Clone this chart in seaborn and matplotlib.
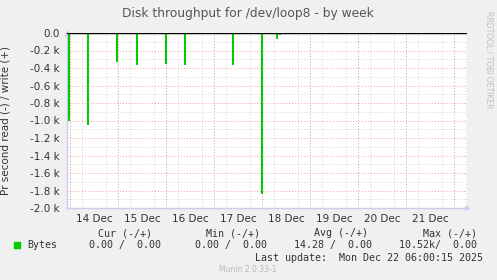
import matplotlib
matplotlib.use("Agg")
import matplotlib.pyplot as plt
import seaborn as sns
import pandas as pd
from matplotlib.ticker import FixedLocator, MultipleLocator

# ---- data (hours since Dec 14 00:00, read bytes/s shown negative) ----
hours = [-1.5, -1.0, -0.5, 8.5, 9.0, 23.0, 23.5, 33.0, 33.5, 47.5, 48.0,
         57.0, 57.5, 81.0, 81.5, 95.5, 96.0, 103.0, 103.5, 104.5, 105.0, 198.5]
read_neg = [0, -990, 0, -1040, 0, -320, 0, -350, 0, -345, 0,
            -350, 0, -350, 0, -1830, 0, -55, 0, -10, 0, 0]
write = [0] * len(hours)

day_labels = ["14 Dec", "15 Dec", "16 Dec", "17 Dec", "18 Dec", "19 Dec", "20 Dec", "21 Dec"]
ytick_vals = [0, -200, -400, -600, -800, -1000, -1200, -1400, -1600, -1800, -2000]
ytick_labels = ["0.0", "-0.2 k", "-0.4 k", "-0.6 k", "-0.8 k", "-1.0 k",
                "-1.2 k", "-1.4 k", "-1.6 k", "-1.8 k", "-2.0 k"]

title = "Disk throughput for /dev/loop8 - by week"
ylabel = "Pr second read (-) / write (+)"
legend_headers = ["Cur (-/+)", "Min (-/+)", "Avg (-/+)", "Max (-/+)"]
legend_values = ["0.00 /  0.00", "0.00 /  0.00", "14.28 /  0.00", "10.52k/  0.00"]
series_name = "Bytes"
last_update = "Last update:  Mon Dec 22 06:00:15 2025"
footer = "Munin 2.0.33-1"
side_text = "RRDTOOL / TOBI OETIKER"

df = pd.DataFrame({"hour": hours, "read": read_neg, "write": write})

sns.set_theme(style="white")
plt.rcParams["font.family"] = ["DejaVu Sans"]

W, H = 497, 280
fig = plt.figure(figsize=(W / 100, H / 100), dpi=100, facecolor="#f0f0f0")
L, R, T, B = 67, 467, 33, 208
ax = fig.add_axes([L / W, 1 - B / H, (R - L) / W, (B - T) / H])
ax.set_facecolor("white")

green = "#00cc00"
sns.lineplot(data=df, x="hour", y="read", ax=ax, color=green, linewidth=0.75,
             drawstyle="steps-post", estimator=None, zorder=3)
sns.lineplot(data=df, x="hour", y="write", ax=ax, color=green, linewidth=0.75,
             drawstyle="steps-post", estimator=None, zorder=3)
ax.axhline(0, color="black", linewidth=1.0, zorder=4)

ax.set_xlim(-1.5, 198.5)
ax.set_ylim(-2000, 0)

# grids
grid_gray = "#d4d4d4"
grid_red = "#f0a0a0"
ax.xaxis.set_minor_locator(MultipleLocator(6))
ax.yaxis.set_minor_locator(MultipleLocator(100))
ax.xaxis.set_major_locator(FixedLocator([24 * i + 12 for i in range(len(day_labels))]))
ax.set_xticklabels(day_labels)
ax.yaxis.set_major_locator(FixedLocator(ytick_vals))
ax.set_yticklabels(ytick_labels)
ax.grid(False)
ax.grid(which="minor", axis="both", color=grid_gray, linestyle=(0, (1, 2)), linewidth=0.7, zorder=1)
ax.grid(which="major", axis="y", color=grid_red, linestyle=(0, (1, 2)), linewidth=0.7, zorder=1)
for d in range(len(day_labels) + 1):
    ax.axvline(24 * d, color=grid_red, linestyle=(0, (1, 2)), linewidth=0.7, zorder=1.5)

ax.tick_params(axis="both", which="major", labelsize=7.5, labelcolor="#333333",
               length=2, color="#999999", pad=3)
ax.tick_params(axis="x", which="major", length=0, pad=4)
ax.tick_params(axis="both", which="minor", length=0)
ax.set_xlabel("")
ax.set_ylabel(ylabel, fontsize=7.5, color="#333333", labelpad=4)
ax.yaxis.set_label_coords(-(67 - 11) / 400, 0.5)

for s in ["top", "right"]:
    ax.spines[s].set_visible(False)
for s in ["left", "bottom"]:
    ax.spines[s].set_color("#ccccf0")
    ax.spines[s].set_linewidth(1.0)
ax.plot(1.0, 0.0, marker=">", color="#ccccf0", markersize=3, transform=ax.transAxes, clip_on=False)
ax.plot(0.0, 1.0, marker="^", color="#ccccf0", markersize=3, transform=ax.transAxes, clip_on=False)

# title and side text
fig.text(248 / W, 1 - 14 / H, title, ha="center", va="center", fontsize=8.8, color="#555555")
fig.text(489 / W, 1 - 60 / H, side_text, ha="center", va="center", rotation=270,
         fontsize=5.5, color="#c0c0c0")

# legend block
mono = "DejaVu Sans Mono"
hdr_right = [152, 260, 368, 477]
for h, xr in zip(legend_headers, hdr_right):
    fig.text(xr / W, 1 - 233 / H, h, ha="right", va="center", fontsize=7.2,
             family=mono, color="#333333")
fig.patches.append(plt.Rectangle((14 / W, 1 - 248 / H), 6 / W, 6 / H, color=green,
                                 transform=fig.transFigure, figure=fig))
fig.text(27 / W, 1 - 245 / H, series_name, ha="left", va="center", fontsize=7.2,
         family=mono, color="#333333")
val_right = [161, 267, 372, 477]
for v, xr in zip(legend_values, val_right):
    fig.text(xr / W, 1 - 245 / H, v, ha="right", va="center", fontsize=7.2,
             family=mono, color="#333333")
fig.text(483 / W, 1 - 258 / H, last_update, ha="right", va="center", fontsize=7.2,
         family=mono, color="#333333")
fig.text(248 / W, 1 - 270 / H, footer, ha="center", va="center", fontsize=5.5,
         color="#b8b8b8")

fig.savefig("out.png", dpi=100, facecolor=fig.get_facecolor())
